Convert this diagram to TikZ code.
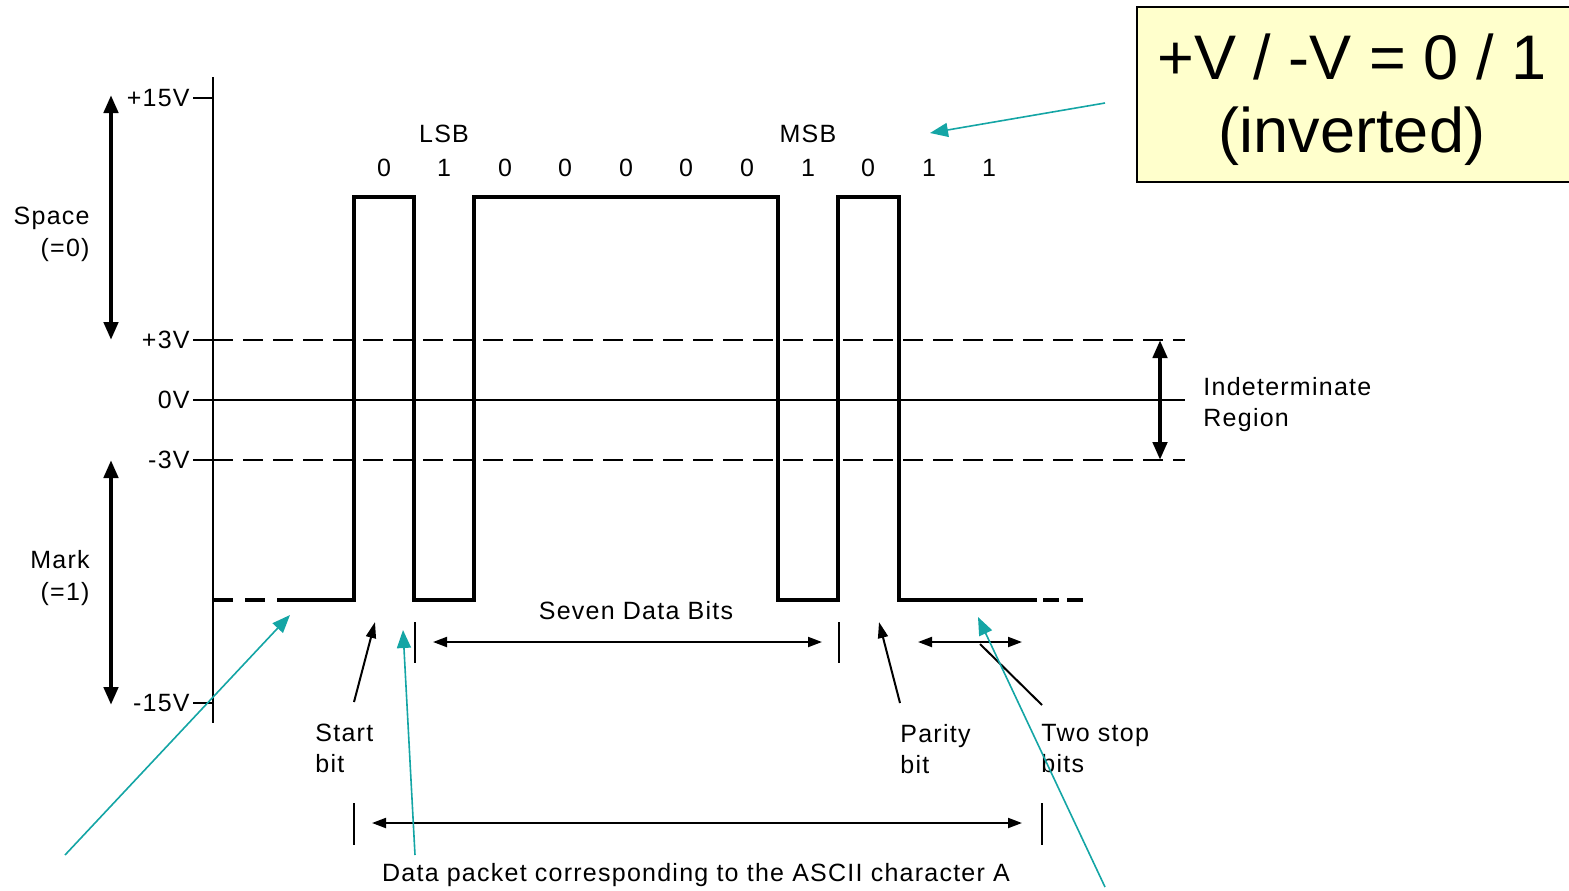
\documentclass[tikz,border=0pt]{standalone}
\usepackage{fontspec}
\setmainfont{Liberation Sans}
\newfontfamily\lblfont[LetterSpace=5]{Liberation Sans}
\usetikzlibrary{arrows.meta}
\definecolor{teal1}{RGB}{20,165,165}
\definecolor{boxfill}{RGB}{255,255,204}
\begin{document}
\begin{tikzpicture}[x=0.5pt,y=-0.5pt,
  lbl/.style={inner sep=0pt,font=\lblfont\fontsize{12.5}{15.5}\selectfont},
  wave/.style={line width=2pt,line join=miter},
  axis/.style={line width=1pt},
  thr/.style={line width=1pt,dash pattern=on 10pt off 5pt},
  dbl/.style={line width=2.2pt,{Triangle[length=9pt,width=7pt]}-{Triangle[length=9pt,width=7pt]}},
  dim/.style={line width=1pt,{Triangle[length=7pt,width=5pt]}-{Triangle[length=7pt,width=5pt]}},
  ptr/.style={line width=1pt,-{Triangle[length=8pt,width=5pt]}},
  callout/.style={draw=teal1,line width=0.8pt,-{Triangle[length=9pt,width=7pt]}}]
\useasboundingbox (0,0) rectangle (1569,890);
% axis and ticks
\draw[axis] (213,77) coordinate (axtop) -- (213,723) coordinate (axbot);
\foreach \y/\t/\n in {98/+15V/p15,340/+3V/p3,400/0V/z,460/-3V/m3,703/-15V/m15}{
  \node[lbl,anchor=east] (\n) at (190,\y) {\t};
  \draw[axis] (\n.east) ++(3,0) -- (213,\y);
}
% threshold lines
\draw[thr] (213,340) -- (1185,340);
\draw[axis] (213,400) -- (1185,400);
\draw[thr] (213,460) -- (1185,460);
% waveform
\draw[wave,dash pattern=on 10pt off 6pt] (213,600) -- (285,600);
\draw[wave] (285,600) -- (354,600) -- (354,197) -- (414,197) -- (414,600) -- (474,600) -- (474,197)
  -- (778,197) -- (778,600) -- (838,600) -- (838,197) -- (899,197) -- (899,600) -- (1037,600);
\draw[wave,dash pattern=on 8pt off 4pt] (1043,600) -- (1085,600);
% bit labels
\foreach \x/\b in {384/0,444/1,505/0,565/0,626/0,686/0,747/0,808/1,868/0,929/1,989/1}{
  \node[lbl] at (\x,168) {\b};
}
\node[lbl] (lsb) at (444,134) {LSB};
\node[lbl] (msb) at (808,134) {MSB};
% left double arrows
\coordinate (sp1) at (111,95); \coordinate (sp2) at (111,340);
\draw[dbl] (sp1) -- (sp2);
\coordinate (mk1) at (111,460); \coordinate (mk2) at (111,705);
\draw[dbl] (mk1) -- (mk2);
\node[lbl,align=right,anchor=east,font=\lblfont\fontsize{12.5}{16}\selectfont] (space) at (90,234) {Space\\(=0)};
\node[lbl,align=right,anchor=east,font=\lblfont\fontsize{12.5}{16}\selectfont] (mark) at (90,578) {Mark\\(=1)};
% indeterminate
\coordinate (in1) at (1160,340); \coordinate (in2) at (1160,460);
\draw[dbl] (in1) -- (in2);
\node[lbl,align=left,anchor=west] (indet) at (1203,405) {Indeterminate\\Region};
% seven data bits
\draw[axis] (415,622) -- (415,663);
\draw[axis] (839,622) -- (839,663);
\coordinate (sd1) at (433,642); \coordinate (sd2) at (822,642);
\draw[dim] (sd1) -- (sd2);
\node[lbl] (seven) at (636,611) {Seven Data Bits};
% start and parity
\node[lbl,align=left,anchor=north west] (start) at (315,724) {Start\\bit};
\node[lbl,align=left,anchor=north west] (parity) at (900,724) {Parity\\bit};
\node[lbl,align=left,anchor=north west] (stop) at (1041,724) {Two stop\\bits};
\coordinate (st0) at (354,702); \coordinate (st1) at (375,622);
\draw[ptr] (st0) -- (st1);
\coordinate (pa0) at (900,703); \coordinate (pa1) at (879,622);
\draw[ptr] (pa0) -- (pa1);
\coordinate (so1) at (918,642); \coordinate (so2) at (1022,642);
\draw[dim] (so1) -- (so2);
\draw[line width=1pt] (980,644) -- (1042,705);
% packet
\draw[axis] (354,803) -- (354,845);
\draw[axis] (1042,803) -- (1042,845);
\coordinate (pk1) at (372,823); \coordinate (pk2) at (1022,823);
\draw[dim] (pk1) -- (pk2);
\node[lbl] (packet) at (696,875) {Data packet corresponding to the ASCII character A};
% callout box
\draw[fill=boxfill,line width=0.8pt] (1137,7) rectangle (1575,182);
\node[inner sep=0pt,align=center,font=\fontsize{31.5}{36.5}\selectfont] (note) at (1352,100) {+V / -V = 0 / 1\\(inverted)};
% teal callouts
\coordinate (c1a) at (65,855); \coordinate (c1b) at (290,615);
\draw[callout] (c1a) -- (c1b);
\coordinate (c2a) at (415,855); \coordinate (c2b) at (403,630);
\draw[callout] (c2a) -- (c2b);
\coordinate (c3a) at (1105,103); \coordinate (c3b) at (930,133);
\draw[callout] (c3a) -- (c3b);
\coordinate (c4a) at (1105,887); \coordinate (c4b) at (978,617);
\draw[callout] (c4a) -- (c4b);
\end{tikzpicture}
\end{document}
